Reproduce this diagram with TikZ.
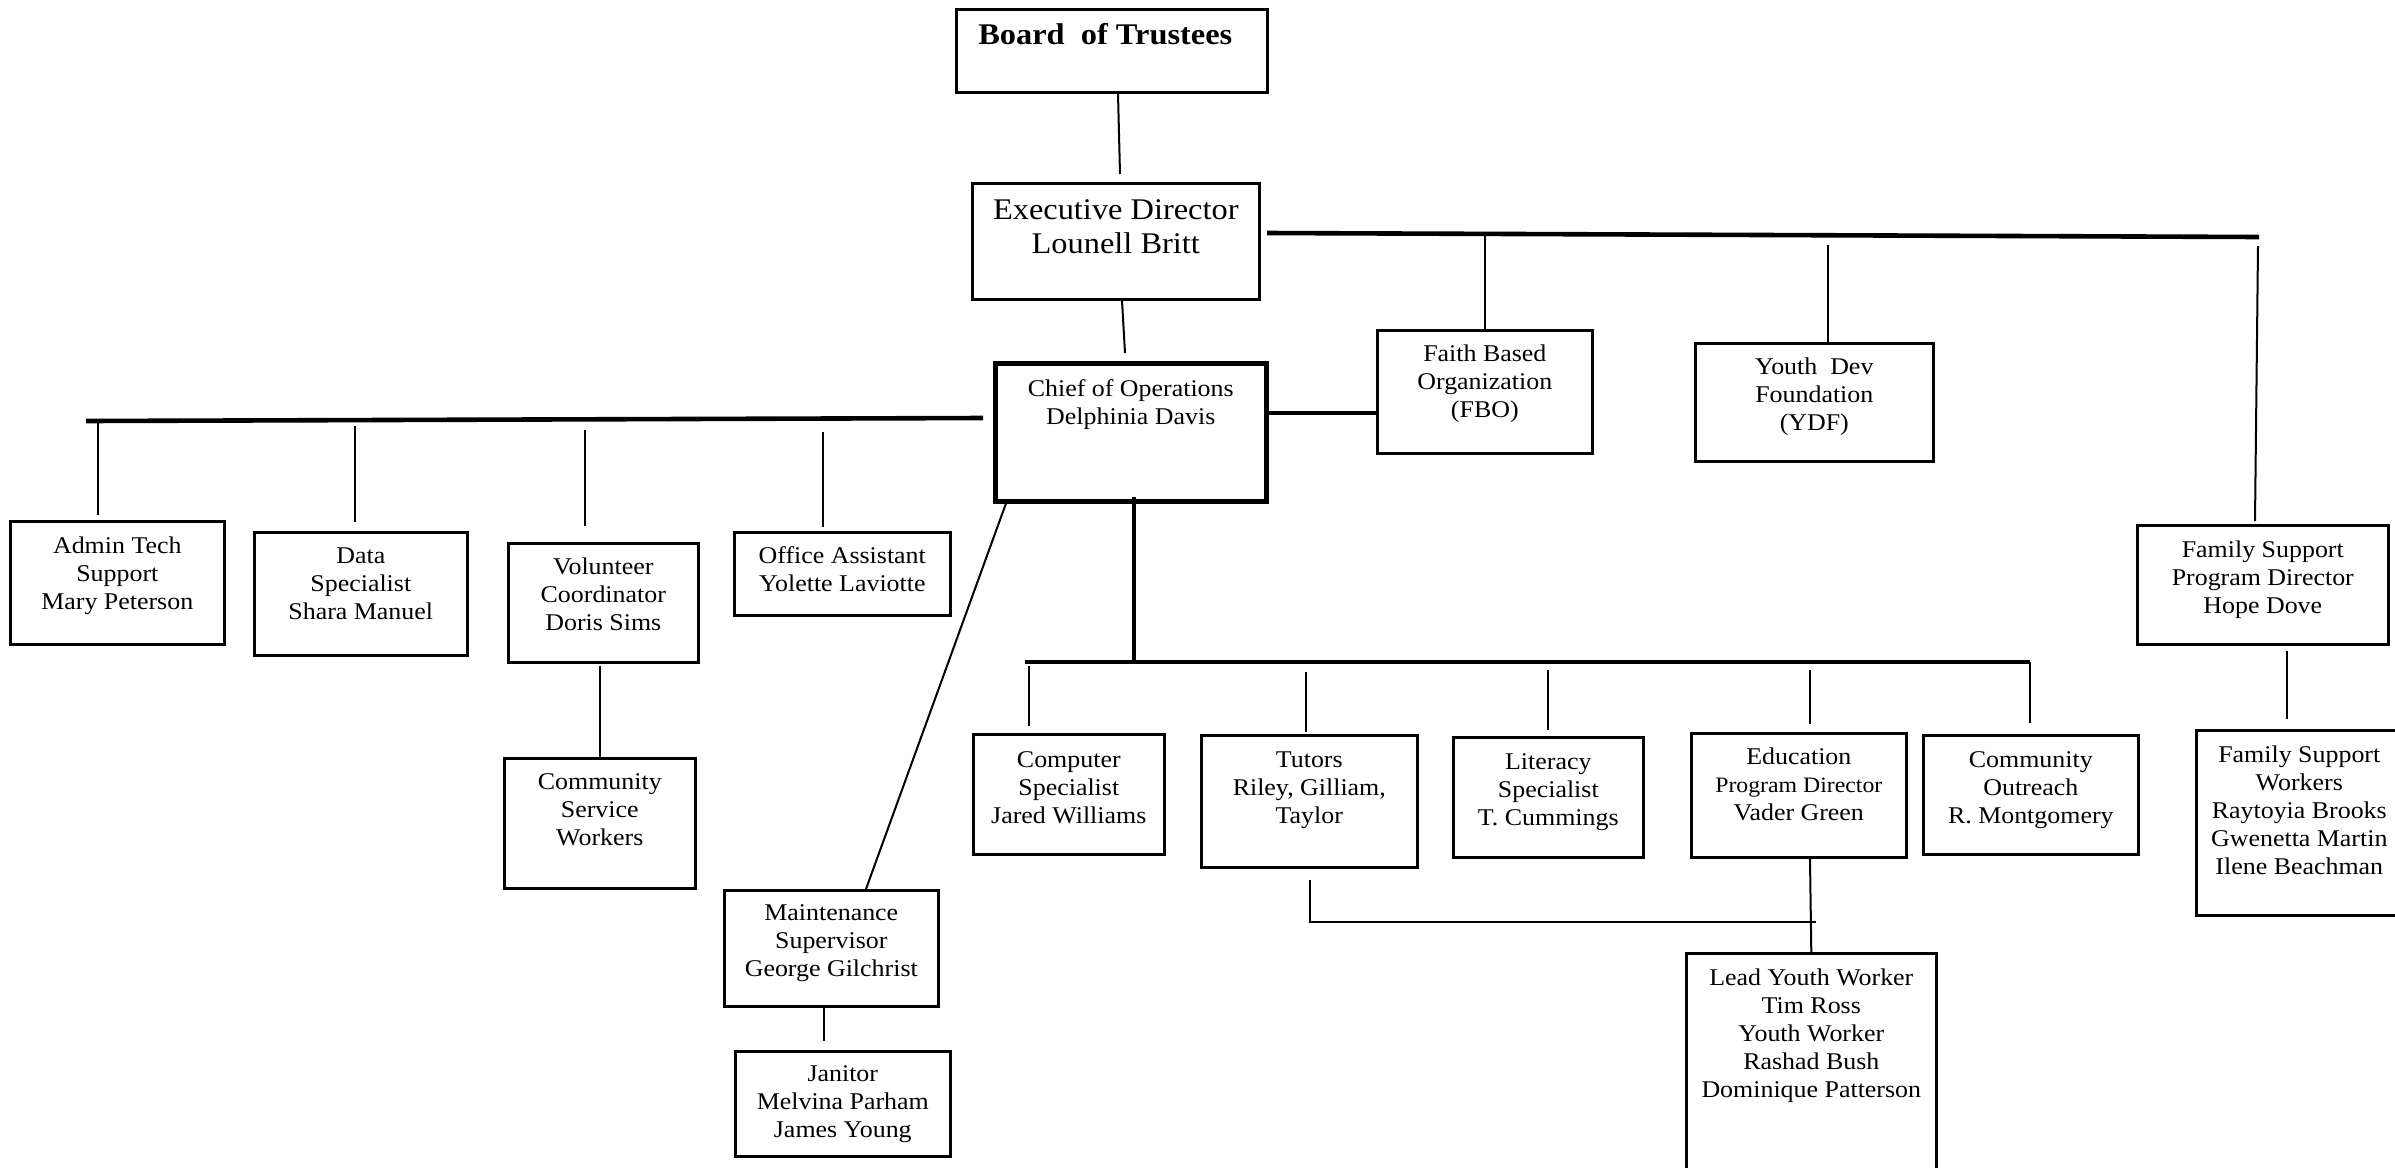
\documentclass[tikz,border=0pt]{standalone}
\usepackage{fontspec}
\setmainfont{Liberation Serif}[FakeStretch=1.08]
\usetikzlibrary{calc}
\newcommand{\bxt}[4]{\parbox[c][#2][t]{#1}{\centering\rule{0pt}{#3}#4\par}}
\begin{document}
\begin{tikzpicture}[x=0.5pt,y=-0.5pt,
  box/.style={draw, line width=1.3pt, inner sep=0pt, anchor=north west, font=\fontsize{12}{14}\selectfont},
  bigbox/.style={box, font=\fontsize{15}{17}\selectfont},
  cooboxst/.style={box, line width=2.3pt},
  conn/.style={line width=1pt},
  tconn/.style={line width=2.3pt}]
\useasboundingbox (0,0) rectangle (2395,1168);
\fill[white] (0,0) rectangle (2395,1168);

% top
\node[box, font=\fontsize{15}{17}\selectfont\bfseries] (board) at (955,8) {\bxt{155.5pt}{41.5pt}{17.5pt}{\hspace*{-6.5pt}Board\ \ of Trustees}};
\node[bigbox] (ed) at (971,182) {\bxt{143.5pt}{58pt}{18pt}{Executive Director\\Lounell Britt}};
\node[cooboxst] (coo) at (993,361) {\bxt{135.5pt}{69pt}{16.5pt}{Chief of Operations\\Delphinia Davis}};

% right side
\node[box] (fbo) at (1376,329) {\bxt{107.5pt}{61.5pt}{15.5pt}{Faith Based\\Organization\\(FBO)}};
\node[box] (ydf) at (1694,342) {\bxt{119pt}{59pt}{15.5pt}{Youth\ \ Dev\\Foundation\\(YDF)}};
\node[box] (fspd) at (2136,524) {\bxt{125.5pt}{59.5pt}{16pt}{Family Support\\Program Director\\Hope Dove}};
\node[box] (fsw) at (2195,729) {\bxt{103pt}{92.5pt}{16pt}{Family Support\\Workers\\Raytoyia Brooks\\Gwenetta Martin\\Ilene Beachman}};

% left side
\node[box] (admin) at (9,520) {\bxt{107pt}{61.5pt}{16pt}{Admin Tech\\Support\\Mary Peterson}};
\node[box] (data) at (253,531) {\bxt{106.5pt}{61.5pt}{15.5pt}{Data\\Specialist\\Shara Manuel}};
\node[box] (vol) at (507,542) {\bxt{95pt}{59.5pt}{15.5pt}{Volunteer\\Coordinator\\Doris Sims}};
\node[box] (office) at (733,531) {\bxt{108pt}{41.5pt}{15.5pt}{Office Assistant\\Yolette Laviotte}};
\node[box] (csw) at (503,757) {\bxt{95.5pt}{65pt}{15.5pt}{Community\\Service\\Workers}};
\node[box] (maint) at (723,889) {\bxt{107pt}{58pt}{15pt}{Maintenance\\Supervisor\\George Gilchrist}};
\node[box] (jan) at (734,1050) {\bxt{107.5pt}{52.5pt}{15pt}{Janitor\\Melvina Parham\\James Young}};

% bottom row
\node[box] (comp) at (972,733) {\bxt{95.5pt}{60pt}{16.5pt}{Computer\\Specialist\\Jared Williams}};
\node[box] (tutors) at (1200,734) {\bxt{108pt}{66pt}{16pt}{Tutors\\Riley, Gilliam,\\Taylor}};
\node[box] (lit) at (1452,736) {\bxt{95pt}{60pt}{16pt}{Literacy\\Specialist\\T. Cummings}};
\node[box] (edu) at (1690,732) {\bxt{107.5pt}{62pt}{15.5pt}{Education\\{\fontsize{11}{14}\selectfont Program Director}\\Vader Green}};
\node[box] (outreach) at (1922,734) {\bxt{107.5pt}{59.5pt}{16pt}{Community\\Outreach\\R. Montgomery}};
\node[box] (lead) at (1685,952) {\bxt{125pt}{120pt}{16pt}{Lead Youth Worker\\Tim Ross\\Youth Worker\\Rashad Bush\\Dominique Patterson}};

% bus coordinates
\coordinate (rbL) at (1267,233);
\coordinate (rbR) at (2259,237);
\coordinate (lbL) at (86,421);
\coordinate (lbR) at (983,418);
\coordinate (bbL) at (1025,662);
\coordinate (bbR) at (2030,662);
\coordinate (fstop) at (2258,246);
\coordinate (cf) at ($(coo.north east)+(0,52)$);

% top connectors
\draw[conn] ($(board.south west)+(163,0)$) -- ($(ed.north west)+(149,-8)$);
\draw[conn] ($(ed.south west)+(151,0)$) -- ($(coo.north west)+(132,-8)$);

% right bus
\draw[tconn] (rbL) -- (rbR);
\draw[conn] (fbo.north) -- (fbo.north |- rbL);
\draw[conn] ($(ydf.north west)+(134,0)$) -- ($(ydf.north west)+(134,-97)$);
\draw[conn] (fstop) -- ($(fspd.north west)+(119,-3)$);
\draw[conn] ($(fspd.south west)+(151,5)$) -- ($(fsw.north west)+(92,-10)$);
\draw[tconn] (cf) -- (cf -| fbo.west);

% left bus
\draw[tconn] (lbL) -- (lbR);
\draw[conn] ($(admin.north west)+(89,-5)$) -- ($(admin.north west)+(89,-99)$);
\draw[conn] ($(data.north west)+(102,-9)$) -- ($(data.north west)+(102,-105)$);
\draw[conn] ($(vol.north west)+(78,-16)$) -- ($(vol.north west)+(78,-112)$);
\draw[conn] ($(office.north west)+(90,-4)$) -- ($(office.north west)+(90,-99)$);
\draw[conn] ($(vol.south west)+(93,2)$) -- ($(csw.north west)+(97,0)$);
\draw[conn] ($(coo.south west)+(14,-3)$) -- ($(maint.north west)+(143,0)$);
\draw[conn] ($(maint.south west)+(101,0)$) -- ($(jan.north west)+(90,-9)$);

% bottom bus
\draw[tconn] ($(coo.south west)+(141,-7)$) -- ($(coo.south west)+(141,160)$);
\draw[tconn] (bbL) -- (bbR);
\draw[conn] ($(comp.north west)+(57,-7)$) -- ($(comp.north west)+(57,-67)$);
\draw[conn] ($(tutors.north west)+(106,-2)$) -- ($(tutors.north west)+(106,-62)$);
\draw[conn] ($(lit.north west)+(96,-6)$) -- ($(lit.north west)+(96,-66)$);
\draw[conn] ($(edu.north west)+(120,-8)$) -- ($(edu.north west)+(120,-62)$);
\draw[conn] ($(outreach.north west)+(108,-11)$) -- (bbR);
\draw[conn] ($(tutors.south west)+(110,11)$) -- ($(tutors.south west)+(110,53)$) -- ($(tutors.south west)+(616,53)$);
\draw[conn] ($(edu.south west)+(120,0)$) -- (lead.north);
\end{tikzpicture}
\end{document}
